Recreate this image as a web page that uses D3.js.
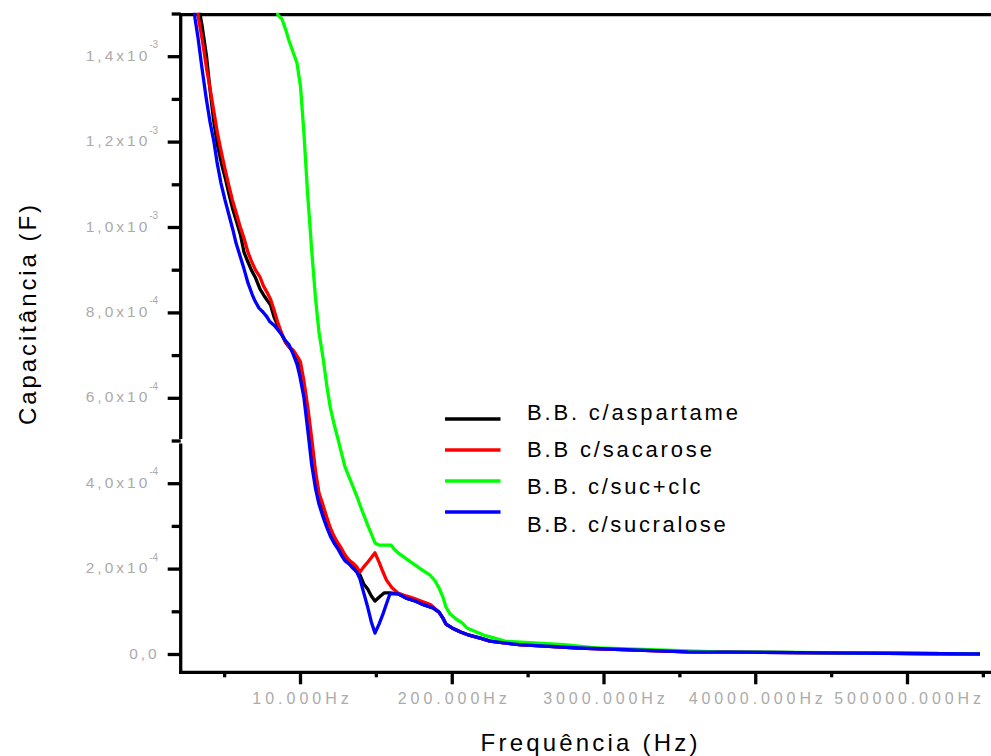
<!DOCTYPE html>
<html>
<head>
<meta charset="utf-8">
<script src="https://cdn.jsdelivr.net/npm/d3@7"></script>
<style>
  html, body { margin: 0; padding: 0; background: #fff; }
  svg { display: block; font-family: "Liberation Sans", Arial, sans-serif; }
</style>
</head>
<body>
<svg id="chart" width="991" height="756"></svg>
<script>
// Axis positions: one unit between labelled frequency ticks
const xTickValues = [1, 2, 3, 4, 5];
const xTickLabels = ["10.000Hz", "200.000Hz", "3000.000Hz", "40000.000Hz", "500000.000Hz"];
const xMinorTicks = [0.5, 1.5, 2.5, 3.5, 4.5, 5.5];

// Capacitance in units of 10^-4 F
const yTickValues = [0, 2, 4, 6, 8, 10, 12, 14];
const yTickMantissa = ["0,0", "2,0x10", "4,0x10", "6,0x10", "8,0x10", "1,0x10", "1,2x10", "1,4x10"];
const yTickExponent = ["", "-4", "-4", "-4", "-4", "-3", "-3", "-3"];
const yMinorTicks = [1, 3, 5, 7, 9, 11, 13, 15];

const seriesNames = ["B.B. c/aspartame", "B.B c/sacarose", "B.B. c/suc+clc", "B.B. c/sucralose"];
const seriesColors = ["#000000", "#ff0000", "#00ff00", "#0000ff"];

// [axis position, capacitance (10^-4 F)]
const aspartame = [[0.321,15.43],[0.341,14.99],[0.354,14.73],[0.384,14.00],[0.407,13.21],[0.433,12.44],[0.456,11.92],[0.483,11.48],[0.509,11.12],[0.532,10.77],[0.555,10.44],[0.582,10.12],[0.608,9.81],[0.631,9.41],[0.657,9.18],[0.680,8.99],[0.707,8.81],[0.736,8.55],[0.769,8.36],[0.806,8.17],[0.829,7.89],[0.855,7.68],[0.881,7.47],[0.908,7.28],[0.934,7.17],[0.967,7.03],[1.000,6.74],[1.026,6.30],[1.053,5.60],[1.079,4.85],[1.103,4.17],[1.125,3.72],[1.150,3.44],[1.176,3.16],[1.200,2.90],[1.224,2.72],[1.250,2.55],[1.275,2.39],[1.297,2.27],[1.323,2.18],[1.348,2.08],[1.374,1.97],[1.395,1.85],[1.420,1.64],[1.446,1.52],[1.470,1.36],[1.494,1.24],[1.521,1.33],[1.554,1.43],[1.593,1.43],[1.646,1.41],[1.699,1.31],[1.758,1.24],[1.817,1.15],[1.876,1.08],[1.916,0.98],[1.942,0.84],[1.962,0.70],[2.002,0.61],[2.054,0.52],[2.114,0.44],[2.199,0.36],[2.252,0.30],[2.443,0.22],[2.839,0.14],[3.557,0.05],[5.481,0]];

const sacarose = [[0.315,15.43],[0.331,14.89],[0.357,14.36],[0.384,13.72],[0.410,13.19],[0.433,12.69],[0.456,12.20],[0.483,11.73],[0.509,11.31],[0.532,10.96],[0.555,10.63],[0.582,10.30],[0.608,9.98],[0.631,9.74],[0.657,9.41],[0.680,9.20],[0.707,8.99],[0.736,8.83],[0.759,8.62],[0.786,8.45],[0.806,8.31],[0.829,8.06],[0.852,7.78],[0.878,7.52],[0.904,7.31],[0.928,7.19],[0.954,7.12],[0.984,6.96],[1.003,6.84],[1.026,6.39],[1.053,5.74],[1.079,4.99],[1.103,4.26],[1.125,3.77],[1.150,3.51],[1.176,3.21],[1.200,2.95],[1.224,2.76],[1.250,2.60],[1.275,2.46],[1.297,2.32],[1.323,2.20],[1.348,2.13],[1.374,2.04],[1.395,1.92],[1.420,2.04],[1.446,2.15],[1.473,2.27],[1.494,2.37],[1.521,2.15],[1.547,1.92],[1.570,1.73],[1.606,1.55],[1.646,1.43],[1.699,1.36],[1.745,1.31],[1.797,1.24],[1.863,1.15],[1.916,0.98],[1.942,0.84],[1.962,0.70],[2.002,0.61],[2.054,0.52],[2.114,0.44],[2.199,0.36],[2.252,0.30],[2.443,0.22],[2.839,0.14],[3.557,0.05],[5.481,0]];

const sucClc = [[0.835,15.43],[0.855,14.96],[0.881,14.87],[0.904,14.64],[0.928,14.36],[0.954,14.10],[0.980,13.84],[1.003,13.30],[1.026,12.20],[1.049,10.84],[1.076,9.51],[1.102,8.34],[1.125,7.54],[1.152,6.93],[1.178,6.25],[1.200,5.77],[1.224,5.39],[1.250,5.04],[1.275,4.68],[1.297,4.38],[1.323,4.15],[1.348,3.93],[1.374,3.70],[1.395,3.49],[1.420,3.26],[1.446,3.02],[1.473,2.79],[1.494,2.60],[1.521,2.55],[1.600,2.55],[1.619,2.46],[1.646,2.37],[1.692,2.25],[1.731,2.15],[1.797,1.99],[1.857,1.85],[1.890,1.71],[1.916,1.55],[1.942,1.33],[1.962,1.10],[1.988,0.94],[2.028,0.82],[2.068,0.73],[2.100,0.61],[2.147,0.54],[2.213,0.44],[2.252,0.40],[2.351,0.30],[2.740,0.22],[2.964,0.14],[3.755,0.05],[5.481,0]];

const sucralose = [[0.295,15.43],[0.308,14.89],[0.328,14.43],[0.354,13.72],[0.381,13.04],[0.407,12.46],[0.433,11.99],[0.453,11.52],[0.479,11.03],[0.506,10.63],[0.532,10.28],[0.558,9.93],[0.578,9.63],[0.605,9.32],[0.631,9.02],[0.657,8.69],[0.684,8.43],[0.703,8.27],[0.730,8.10],[0.756,8.01],[0.783,7.89],[0.802,7.78],[0.829,7.70],[0.855,7.59],[0.881,7.47],[0.901,7.35],[0.928,7.24],[0.954,7.03],[0.980,6.79],[1.000,6.49],[1.026,6.00],[1.051,5.25],[1.077,4.43],[1.103,3.86],[1.125,3.51],[1.150,3.23],[1.176,2.97],[1.200,2.76],[1.224,2.60],[1.250,2.46],[1.275,2.30],[1.297,2.18],[1.323,2.11],[1.348,2.01],[1.374,1.92],[1.395,1.76],[1.420,1.43],[1.446,1.10],[1.470,0.75],[1.494,0.49],[1.521,0.70],[1.547,0.94],[1.571,1.19],[1.593,1.41],[1.646,1.41],[1.699,1.31],[1.758,1.24],[1.817,1.15],[1.876,1.08],[1.916,0.98],[1.942,0.84],[1.962,0.70],[2.002,0.61],[2.054,0.52],[2.114,0.44],[2.199,0.36],[2.252,0.30],[2.443,0.22],[2.839,0.14],[3.557,0.05],[5.481,0]];

const seriesData = [aspartame, sacarose, sucClc, sucralose];

// ---- layout ----
const plotLeft = 180.7, plotTop = 14.7, plotBottom = 672.3, plotRight = 995;
const AXIS_W = 3.3;
const LABEL_GREY = "#ababab";

const svg = d3.select("#chart");

const x = d3.scaleLinear().domain([1, 5]).range([300, 907]);
const y = d3.scaleLinear().domain([0, 14]).range([654, 56.2]);

// widen text to the loose letter spacing used throughout the figure
function spread(sel, k) {
  sel.each(function () {
    const w = this.getComputedTextLength();
    d3.select(this).attr("textLength", w * k).attr("lengthAdjust", "spacing");
  });
}

// ---- frame ----
svg.append("line")
  .attr("x1", plotLeft - 1.5).attr("x2", plotRight)
  .attr("y1", plotTop).attr("y2", plotTop)
  .attr("stroke", "#000").attr("stroke-width", AXIS_W);

svg.append("line")
  .attr("x1", plotLeft - 1.5).attr("x2", plotRight)
  .attr("y1", plotBottom).attr("y2", plotBottom)
  .attr("stroke", "#000").attr("stroke-width", AXIS_W);

// left axis line, drawn in two pieces with a small break near 5x10^-4
const breakY = y(5);
svg.append("line")
  .attr("x1", plotLeft).attr("x2", plotLeft)
  .attr("y1", plotTop - 1.6).attr("y2", breakY - 1.5)
  .attr("stroke", "#000").attr("stroke-width", AXIS_W);
svg.append("line")
  .attr("x1", plotLeft).attr("x2", plotLeft)
  .attr("y1", breakY + 3).attr("y2", plotBottom + 1.6)
  .attr("stroke", "#000").attr("stroke-width", AXIS_W);

// ---- x axis ticks ----
const xAxisG = svg.append("g").attr("transform", `translate(0,${plotBottom})`);
const xMajor = d3.axisBottom(x).tickValues(xTickValues).tickSize(12).tickPadding(0)
  .tickFormat((d, i) => xTickLabels[i]);
const xMinor = d3.axisBottom(x).tickValues(xMinorTicks).tickSize(5).tickFormat("");

xAxisG.append("g").call(xMinor);
const xMajorG = xAxisG.append("g").call(xMajor);
xAxisG.selectAll(".domain").remove();
xAxisG.selectAll(".tick line").attr("stroke", "#000").attr("stroke-width", AXIS_W);
xMajorG.selectAll(".tick text")
  .attr("y", 32)
  .attr("dy", 0)
  .attr("fill", LABEL_GREY)
  .attr("font-size", 16)
  .attr("font-family", "Liberation Sans, Arial, sans-serif")
  .call(spread, 1.41);

// ---- y axis ticks ----
const yAxisG = svg.append("g").attr("transform", `translate(${plotLeft},0)`);
const yMajor = d3.axisLeft(y).tickValues(yTickValues).tickSize(13).tickFormat("");
const yMinor = d3.axisLeft(y).tickValues(yMinorTicks).tickSize(9).tickFormat("");
yAxisG.append("g").call(yMinor);
const yMajorG = yAxisG.append("g").call(yMajor);
yAxisG.selectAll(".domain").remove();
yAxisG.selectAll(".tick line").attr("stroke", "#000").attr("stroke-width", AXIS_W);
yAxisG.selectAll(".tick text").remove();

// mantissa followed by a raised power of ten, in one text element
yMajorG.selectAll(".tick").each(function (d, i) {
  const g = d3.select(this);
  const hasExp = yTickExponent[i] !== "";
  const t = g.append("text")
    .attr("x", hasExp ? -22.5 : -21)
    .attr("y", 4)
    .attr("text-anchor", "end")
    .attr("fill", LABEL_GREY)
    .attr("font-size", 15.5);
  t.append("tspan")
    .attr("letter-spacing", 3)
    .text(yTickMantissa[i]);
  if (hasExp) {
    t.append("tspan")
      .attr("dx", -1)
      .attr("dy", -12.5)
      .attr("font-size", 10)
      .text(yTickExponent[i]);
  }
});

// ---- axis titles ----
const xTitle = svg.append("text")
  .attr("x", 589).attr("y", 750.5)
  .attr("text-anchor", "middle")
  .attr("font-size", 24)
  .attr("fill", "#000")
  .text("Frequência (Hz)");
spread(xTitle, 1.26);

const yTitle = svg.append("text")
  .attr("transform", "translate(36,315) rotate(-90)")
  .attr("text-anchor", "middle")
  .attr("font-size", 24)
  .attr("fill", "#000")
  .text("Capacitância (F)");
spread(yTitle, 1.25);

// ---- curves ----
svg.append("clipPath").attr("id", "plotClip")
  .append("rect")
  .attr("x", plotLeft).attr("y", plotTop - 2)
  .attr("width", plotRight - plotLeft).attr("height", plotBottom - plotTop);

const line = d3.line().x(d => x(d[0])).y(d => y(d[1]));

const curves = svg.append("g").attr("clip-path", "url(#plotClip)");
seriesData.forEach((data, i) => {
  curves.append("path")
    .datum(data)
    .attr("d", line)
    .attr("fill", "none")
    .attr("stroke", seriesColors[i])
    .attr("stroke-width", 3.3)
    .attr("stroke-linejoin", "round");
});

// ---- legend ----
const legend = svg.append("g");
seriesNames.forEach((name, i) => {
  const ly = 419 + i * 31;
  legend.append("line")
    .attr("x1", 445).attr("x2", 500.5)
    .attr("y1", ly).attr("y2", ly)
    .attr("stroke", seriesColors[i])
    .attr("stroke-width", 3.3);
  const t = legend.append("text")
    .attr("x", 527)
    .attr("y", 419.5 + i * 37.4)
    .attr("font-size", 22)
    .attr("fill", "#000")
    .text(name);
  spread(t, 1.25);
});
</script>
</body>
</html>
